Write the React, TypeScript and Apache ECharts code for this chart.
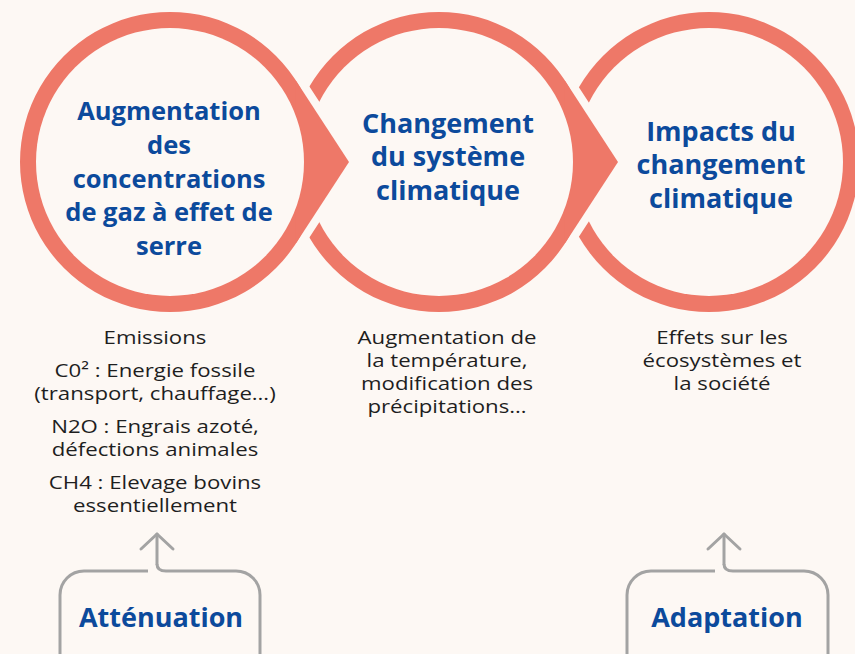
import React, { useEffect, useRef } from "react";
import * as echarts from "echarts";

// ---- content ----
const stageTitles: string[][] = [
  ["Augmentation", "des", "concentrations", "de gaz à effet de", "serre"],
  ["Changement", "du système", "climatique"],
  ["Impacts du", "changement", "climatique"],
];
const stageDescriptions: string[][][] = [
  [
    ["Emissions"],
    ["C0² : Energie fossile", "(transport, chauffage…)"],
    ["N2O : Engrais azoté,", "défections animales"],
    ["CH4 : Elevage bovins", "essentiellement"],
  ],
  [["Augmentation de", "la température,", "modification des", "précipitations…"]],
  [["Effets sur les", "écosystèmes et", "la société"]],
];
const actionLabels: string[] = ["Atténuation", "Adaptation"];

// ---- style / layout ----
const BG = "#fdf8f4";
const SALMON = "#ee7868";
const BLUE = "#0c4a9c";
const DARK = "#1e1e1e";
const GREY = "#a3a3a3";
const CENTERS = [170, 439, 709];
const TITLE_X = [169, 448, 721];
const CY = 162;
const R_OUT = 150;
const R_IN = 134;
const TIP = 179;
const GAP = 16;
const HEAD_FONTS = ['bold 25.5px "Open Sans"', 'bold 27px "Open Sans"', 'bold 27px "Open Sans"'];
const LABEL_FONT = 'bold 27px "Open Sans"';
const BODY_FONT = '19px "Open Sans"';
const BODY_SCALE_X = 1.17;
const TITLE_LH = 33.8;
const BODY_LH = 23;

function tangentPts(cx: number) {
  const tipX = cx + TIP;
  const phi = Math.acos(R_OUT / TIP);
  const top = [cx + R_OUT * Math.cos(phi), CY - R_OUT * Math.sin(phi)];
  const bot = [cx + R_OUT * Math.cos(phi), CY + R_OUT * Math.sin(phi)];
  return { top, bot, tip: [tipX, CY] };
}

function text(x: number, y: number, t: string, font: string, fill: string, lh?: number, sx = 1) {
  return {
    type: "text",
    x,
    y,
    scaleX: sx,
    style: {
      text: t,
      font,
      fill,
      lineHeight: lh,
      align: "center",
      verticalAlign: "top",
      textAlign: "center",
      textVerticalAlign: "top",
    },
  };
}

function buildGraphics() {
  const els: any[] = [];
  // draw circles from right to left so each arrow sits over the next ring
  for (let i = CENTERS.length - 1; i >= 0; i--) {
    const cx = CENTERS[i];
    const hasArrow = i < CENTERS.length - 1;
    if (hasArrow) {
      const { top, bot, tip } = tangentPts(cx);
      els.push({
        type: "polyline",
        shape: { points: [top, tip, bot] },
        style: { stroke: BG, lineWidth: GAP, fill: null, lineJoin: "miter" },
      });
      els.push({ type: "circle", shape: { cx, cy: CY, r: R_OUT }, style: { fill: SALMON } });
      els.push({ type: "polygon", shape: { points: [top, tip, bot] }, style: { fill: SALMON } });
    } else {
      els.push({ type: "circle", shape: { cx, cy: CY, r: R_OUT }, style: { fill: SALMON } });
    }
    els.push({ type: "circle", shape: { cx, cy: CY, r: R_IN }, style: { fill: BG } });
  }

  // titles in circles (first-line centre y)
  const titleStartY = [110, 122, 130];
  stageTitles.forEach((lines, i) => {
    els.push(
      text(TITLE_X[i], titleStartY[i] - TITLE_LH / 2, lines.join("\n"), HEAD_FONTS[i], BLUE, TITLE_LH)
    );
  });

  // descriptions
  const descX = [155, 447, 722];
  stageDescriptions.forEach((groups, i) => {
    let y = 337 - BODY_LH / 2;
    groups.forEach((g) => {
      els.push(text(descX[i], y, g.join("\n"), BODY_FONT, DARK, BODY_LH, BODY_SCALE_X));
      y += g.length * BODY_LH + 10;
    });
  });

  // action boxes
  const boxes = [
    { left: 60, right: 260, stem: 157, label: 161 },
    { left: 627, right: 828, stem: 724, label: 727 },
  ];
  const top = 571;
  boxes.forEach((b, i) => {
    els.push({
      type: "rect",
      shape: { x: b.left, y: top, width: b.right - b.left, height: 140, r: 24 },
      style: { fill: null, stroke: GREY, lineWidth: 3 },
    });
    els.push({
      type: "rect",
      shape: { x: b.stem - 9, y: top - 5, width: 18, height: 10 },
      style: { fill: BG },
    });
    els.push({
      type: "polyline",
      shape: { points: [[b.stem, 534], [b.stem, top - 7]] },
      style: { stroke: GREY, lineWidth: 3, fill: null, lineCap: "round" },
    });
    els.push({
      type: "bezierCurve",
      shape: { x1: b.stem, y1: top - 7, cpx1: b.stem, cpy1: top, x2: b.stem + 9, y2: top },
      style: { stroke: GREY, lineWidth: 3, fill: null },
    });
    els.push({
      type: "polyline",
      shape: { points: [[b.stem - 16, 549], [b.stem, 534], [b.stem + 16, 549]] },
      style: { stroke: GREY, lineWidth: 3, fill: null, lineCap: "round", lineJoin: "round" },
    });
    els.push(text(b.label, 616 - 18, actionLabels[i], LABEL_FONT, BLUE, 36));
  });
  return els;
}

export default function App() {
  const ref = useRef<HTMLDivElement>(null);
  useEffect(() => {
    if (!ref.current) return;
    const chart = echarts.init(ref.current, undefined, { renderer: "svg" });
    chart.setOption({
      animation: false,
      backgroundColor: BG,
      graphic: { elements: buildGraphics() },
    });
    return () => chart.dispose();
  }, []);
  return (
    <div
      ref={ref}
      style={{ position: "fixed", left: 0, top: 0, width: 855, height: 654 }}
    />
  );
}
